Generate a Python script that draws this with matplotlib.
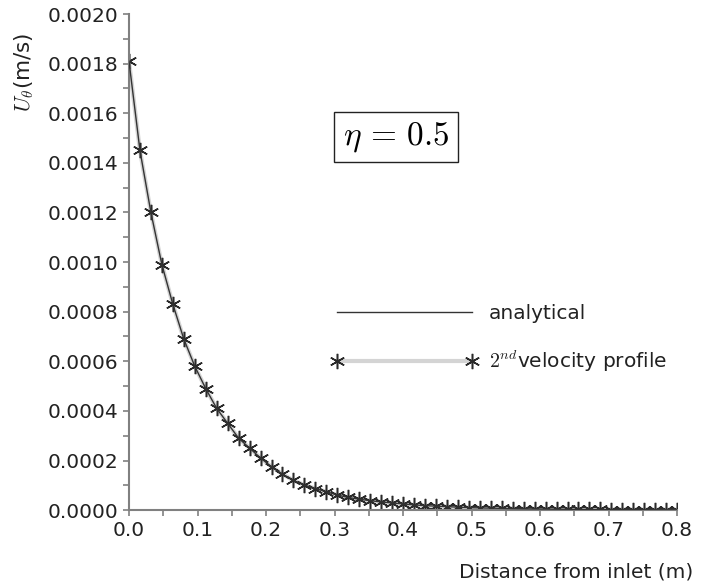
import numpy as np
import matplotlib
matplotlib.use('Agg')
import matplotlib.pyplot as plt
from matplotlib.ticker import MultipleLocator, FormatStrFormatter

plt.rcParams['font.family'] = ['DejaVu Sans']
plt.rcParams['mathtext.fontset'] = 'cm'

# Sample positions along the channel (m)
distance = [0.000, 0.016, 0.032, 0.048, 0.064, 0.080, 0.096, 0.112, 0.128, 0.144,
            0.160, 0.176, 0.192, 0.208, 0.224, 0.240, 0.256, 0.272, 0.288, 0.304,
            0.320, 0.336, 0.352, 0.368, 0.384, 0.400, 0.416, 0.432, 0.448, 0.464,
            0.480, 0.496, 0.512, 0.528, 0.544, 0.560, 0.576, 0.592, 0.608, 0.624,
            0.640, 0.656, 0.672, 0.688, 0.704, 0.720, 0.736, 0.752, 0.768, 0.784,
            0.800]

# Azimuthal velocity U_theta (m/s)
u_theta = [0.00181, 0.00145, 0.00120, 0.00099, 0.00083, 0.00069, 0.00058, 0.00049,
           0.00041, 0.00035, 0.00029, 0.00025, 0.00021, 0.000175, 0.000145, 0.000120,
           0.000101, 0.000087, 0.000074, 0.000061, 0.000051, 0.000044, 0.000038,
           0.000033, 0.000029, 0.000025, 0.000021, 0.000018, 0.000016, 0.000014,
           0.000012, 0.000010, 0.0000090, 0.0000080, 0.0000070, 0.0000062,
           0.0000055, 0.0000049, 0.0000044, 0.0000039, 0.0000035, 0.0000031,
           0.0000028, 0.0000025, 0.0000022, 0.0000020, 0.0000018, 0.0000016,
           0.0000014, 0.0000013, 0.0000012]

spine_col = '#808080'
text_col = '#222222'

fig = plt.figure(figsize=(7.01, 5.85), dpi=100)
ax = fig.add_axes([0.184, 0.128, 0.782, 0.848])

ax.plot(distance, u_theta, color='#d4d4d4', lw=3.0, marker=(6, 2, 0),
        markersize=11, markeredgewidth=1.1, markeredgecolor='#2a2a2a',
        markerfacecolor='#2a2a2a', label=r'$2^{nd}$velocity profile', zorder=2)
ax.plot(distance, u_theta, color='#333333', lw=1.0, label='analytical', zorder=3)

ax.set_xlim(0, 0.8)
ax.set_ylim(0, 0.002)

ax.xaxis.set_major_locator(MultipleLocator(0.1))
ax.xaxis.set_minor_locator(MultipleLocator(0.05))
ax.yaxis.set_major_locator(MultipleLocator(0.0002))
ax.yaxis.set_minor_locator(MultipleLocator(0.0001))
ax.xaxis.set_major_formatter(FormatStrFormatter('%.1f'))
ax.yaxis.set_major_formatter(FormatStrFormatter('%.4f'))

for side in ['top', 'right']:
    ax.spines[side].set_visible(False)
for side in ['left', 'bottom']:
    ax.spines[side].set_color(spine_col)
    ax.spines[side].set_linewidth(1.5)

ax.tick_params(which='both', direction='out', color=spine_col, width=1.2,
               labelsize=14.5, labelcolor=text_col)
ax.tick_params(which='major', length=4, pad=3.5)
ax.tick_params(which='minor', length=4)

# Axis titles sit at the figure edges
fig.text(0.034, 0.944, r'$U_\theta$(m/s)', rotation=90, ha='center', va='top',
         fontsize=15.5, color=text_col)
fig.text(0.989, 0.022, 'Distance from inlet (m)', ha='right', va='center',
         fontsize=14.5, color=text_col)

ax.text(0.487, 0.752, r'$\eta\,=\,0.5$', transform=ax.transAxes, ha='center',
        va='center', fontsize=24,
        bbox=dict(boxstyle='square,pad=0.25', fc='white', ec='#222222', lw=1))

handles, labels = ax.get_legend_handles_labels()
leg = ax.legend(handles[::-1], labels[::-1], loc='upper left',
                bbox_to_anchor=(0.368, 0.415), frameon=False, fontsize=14.5,
                handlelength=7.3, handletextpad=0.55, labelspacing=1.25,
                borderpad=0, borderaxespad=0, numpoints=2)
for t in leg.get_texts():
    t.set_color(text_col)

fig.savefig('out.png', dpi=100)
